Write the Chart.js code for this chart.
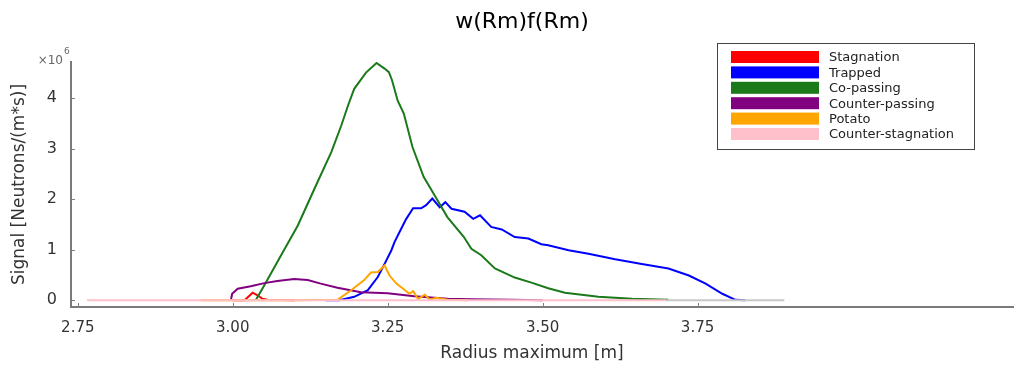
<!DOCTYPE html>
<html>
<head>
<meta charset="utf-8">
<script src="https://cdn.jsdelivr.net/npm/chart.js@4"></script>
<style>
  html, body { margin: 0; padding: 0; background: #fff; }
  #wrap { width: 1015px; height: 365px; }
</style>
</head>
<body>
<div id="wrap"><canvas id="orbits"></canvas></div>
<script>
// tick values / labels
const xTicks = [2.75, 3.00, 3.25, 3.50, 3.75];
const xTickLabels = ['2.75', '3.00', '3.25', '3.50', '3.75'];
const yTicks = [0, 1, 2, 3, 4];

// series (x in m, y in 1e6 Neutrons/(m*s))
const stagR = [3.00, 3.019, 3.026, 3.032, 3.040, 3.048, 3.056, 3.10];
const stagV = [0, 0, 0.08, 0.15, 0.10, 0.03, 0.01, 0];

const trapR = [3.15, 3.172, 3.196, 3.218, 3.234, 3.245, 3.256, 3.261, 3.272, 3.280, 3.291, 3.304, 3.312, 3.322, 3.334, 3.343, 3.353, 3.374, 3.388, 3.399, 3.417, 3.434, 3.455, 3.477, 3.498, 3.509, 3.542, 3.574, 3.617, 3.660, 3.703, 3.736, 3.763, 3.790, 3.811, 3.827];
const trapV = [0, 0, 0.07, 0.2, 0.46, 0.72, 0.99, 1.15, 1.42, 1.61, 1.82, 1.82, 1.88, 2.01, 1.84, 1.94, 1.81, 1.75, 1.61, 1.68, 1.45, 1.40, 1.25, 1.22, 1.11, 1.09, 0.99, 0.92, 0.81, 0.72, 0.63, 0.49, 0.33, 0.13, 0.01, 0];

const coR = [3.037, 3.051, 3.078, 3.105, 3.132, 3.159, 3.175, 3.186, 3.196, 3.215, 3.232, 3.245, 3.252, 3.257, 3.266, 3.276, 3.290, 3.308, 3.324, 3.346, 3.373, 3.385, 3.401, 3.423, 3.455, 3.482, 3.509, 3.536, 3.590, 3.644, 3.703];
const coV = [0, 0.30, 0.89, 1.48, 2.21, 2.93, 3.45, 3.85, 4.18, 4.50, 4.69, 4.58, 4.51, 4.35, 3.95, 3.69, 3.03, 2.44, 2.11, 1.65, 1.25, 1.02, 0.89, 0.63, 0.45, 0.35, 0.24, 0.15, 0.07, 0.03, 0.01];

const ctrR = [2.997, 2.999, 3.008, 3.029, 3.051, 3.072, 3.099, 3.121, 3.142, 3.169, 3.207, 3.250, 3.293, 3.347, 3.385, 3.45, 3.50];
const ctrV = [0, 0.13, 0.23, 0.28, 0.34, 0.38, 0.42, 0.40, 0.33, 0.25, 0.16, 0.14, 0.08, 0.03, 0.02, 0.01, 0];

const potR = [2.948, 2.997, 3.10, 3.169, 3.191, 3.212, 3.223, 3.234, 3.245, 3.253, 3.264, 3.277, 3.285, 3.291, 3.299, 3.310, 3.318, 3.328, 3.347, 3.38];
const potV = [0, 0, 0, 0.01, 0.2, 0.40, 0.55, 0.56, 0.69, 0.49, 0.33, 0.21, 0.13, 0.18, 0.03, 0.11, 0.01, 0.05, 0.01, 0];

const cstagR = [2.765, 3.70, 3.89];
const cstagV = [0, 0, 0];

const pts = (xs, ys) => xs.map((x, i) => ({ x: x, y: ys[i] }));

function line(label, xs, ys, color, order) {
  return {
    label: label,
    data: pts(xs, ys),
    borderColor: color,
    backgroundColor: color,
    borderWidth: 2,
    pointRadius: 0,
    tension: 0,
    fill: false,
    order: order
  };
}

const datasets = [
  line('Stagnation', stagR, stagV, '#ff0000', 5),
  line('Trapped', trapR, trapV, '#0000ff', 4),
  line('Co-passing', coR, coV, '#1a7a1a', 3),
  line('Counter-passing', ctrR, ctrV, '#800080', 2),
  line('Potato', potR, potV, '#ffa500', 1),
  line('Counter-stagnation', cstagR, cstagV, '#ffc0cb', 0)
];
// faint grey tail of the last zero line
datasets[5].segment = {
  borderColor: c => c.p0.parsed.x >= 3.70 ? '#c8c8c8' : undefined
};

const FONT = '"DejaVu Sans", sans-serif';

const decor = {
  id: 'decor',
  afterDraw(chart) {
    const ctx = chart.ctx;
    const xs = chart.scales.x, ys = chart.scales.y;
    const area = chart.chartArea;
    ctx.save();

    // inward tick marks
    ctx.strokeStyle = '#808080';
    ctx.lineWidth = 1;
    xTicks.forEach(v => {
      const px = Math.round(xs.getPixelForValue(v)) + 0.5;
      ctx.beginPath();
      ctx.moveTo(px, area.bottom);
      ctx.lineTo(px, area.bottom - 4);
      ctx.stroke();
    });
    yTicks.forEach(v => {
      const py = Math.round(ys.getPixelForValue(v)) + 0.5;
      ctx.beginPath();
      ctx.moveTo(area.left, py);
      ctx.lineTo(area.left + 4, py);
      ctx.stroke();
    });

    // title
    ctx.fillStyle = '#000';
    ctx.font = '22px ' + FONT;
    ctx.textAlign = 'center';
    ctx.textBaseline = 'middle';
    ctx.fillText('w(Rm)f(Rm)', 522, 22);

    // x axis title
    ctx.fillStyle = '#333';
    ctx.font = '17px ' + FONT;
    ctx.fillText('Radius maximum [m]', 532, 354);

    // exponent
    ctx.fillStyle = '#666';
    ctx.font = '12px ' + FONT;
    ctx.textAlign = 'right';
    ctx.fillText('\u00d710', 63, 61);
    ctx.font = '9px ' + FONT;
    ctx.textAlign = 'left';
    ctx.fillText('6', 64, 52);

    // legend box
    const bx = 717, by = 43, bw = 257, bh = 106;
    ctx.fillStyle = '#fff';
    ctx.fillRect(bx, by, bw, bh);
    ctx.strokeStyle = '#444';
    ctx.lineWidth = 1;
    ctx.strokeRect(bx + 0.5, by + 0.5, bw, bh);
    ctx.font = '13px ' + FONT;
    ctx.textAlign = 'left';
    ctx.textBaseline = 'middle';
    chart.data.datasets.forEach((ds, i) => {
      const cy = 57 + i * 15.4;
      ctx.fillStyle = ds.borderColor;
      ctx.fillRect(731, cy - 6, 88, 12);
      ctx.fillStyle = '#222';
      ctx.fillText(ds.label, 829, cy + 1);
    });

    ctx.restore();
  }
};

new Chart(document.getElementById('orbits').getContext('2d'), {
  type: 'line',
  data: { datasets: datasets },
  options: {
    responsive: true,
    maintainAspectRatio: false,
    animation: false,
    layout: { padding: { top: 62, right: 2, left: 0, bottom: 0 } },
    plugins: {
      legend: { display: false },
      tooltip: { enabled: false }
    },
    scales: {
      x: {
        type: 'linear',
        min: 2.739,
        max: 4.259,
        afterBuildTicks: s => { s.ticks = xTicks.map(v => ({ value: v })); },
        afterFit: s => { s.height = 58; },
        grid: { display: true, drawOnChartArea: false, drawTicks: false },
        border: { color: '#7a7a7a', width: 2 },
        ticks: {
          color: '#333',
          font: { family: FONT, size: 15 },
          padding: 12,
          maxRotation: 0,
          callback: (v) => xTickLabels[xTicks.indexOf(v)]
        }
      },
      y: {
        type: 'linear',
        min: -0.132,
        max: 4.71,
        afterBuildTicks: s => { s.ticks = yTicks.map(v => ({ value: v })); },
        afterFit: s => { s.width = 71; },
        grid: { display: true, drawOnChartArea: false, drawTicks: false },
        border: { color: '#7a7a7a', width: 2 },
        title: {
          display: true,
          text: 'Signal [Neutrons/(m*s)]',
          color: '#333',
          font: { family: FONT, size: 17 },
          padding: { top: 9, bottom: 4 }
        },
        ticks: {
          color: '#333',
          font: { family: FONT, size: 16 },
          padding: 14,
          callback: v => String(v)
        }
      }
    }
  },
  plugins: [decor]
});
</script>
</body>
</html>
